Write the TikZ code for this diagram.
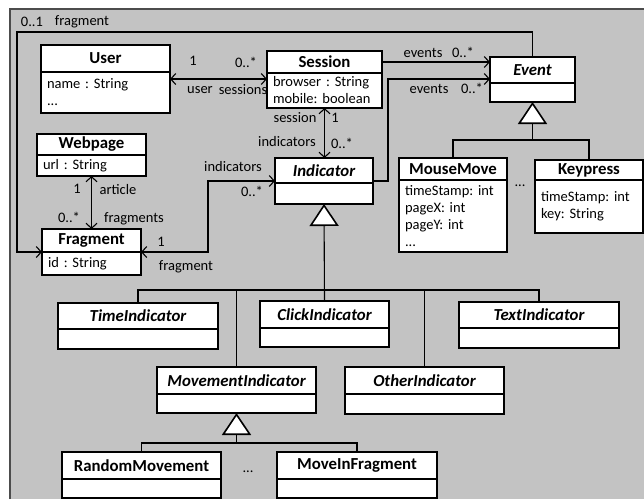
\documentclass[tikz,border=0pt]{standalone}
\usepackage{fontspec}
\setmainfont{Carlito}
\usetikzlibrary{arrows.meta}
\definecolor{canvas}{RGB}{195,195,195}
\frenchspacing

\begin{document}
\begin{tikzpicture}[x = 1pt, y = -1pt, font = \fontsize{14.5}{17}\selectfont,
    head/.style = {draw, fill = white, line width = 1.6pt, outer sep = 0pt, inner xsep = 2pt, inner ysep = 0.5pt, anchor = north west, font = \fontsize{16.8}{17}\selectfont\bfseries},
    abstract/.style = {head, font = \fontsize{16.8}{17}\selectfont\bfseries\itshape},
    attrs/.style = {draw, fill = white, line width = 1.6pt, outer sep = 0pt, inner xsep = 6pt, inner ysep = 1pt, anchor = north, align = left},
    lbl/.style = {inner sep = 0pt},
    assoc/.style = {line width = 1.1pt, {Straight Barb[length = 5pt, width = 11pt]}-{Straight Barb[length = 5pt, width = 11pt]}},
    nav/.style = {line width = 1.1pt, -{Straight Barb[length = 5pt, width = 11pt]}},
    gen/.style = {line width = 1.1pt, -{Triangle[fill = white, line width = 1.6pt, length = 22pt, width = 29pt]}},
    tree/.style = {line width = 1.1pt}]
    \useasboundingbox (0,0) rectangle (644,499);
    \fill[canvas] (9,8) rectangle (644,499);
    \draw[line width = 2pt, black!70] (9.5,499) -- (9.5,8.5) -- (644,8.5);

    % classes
    \node[head, minimum width = 129pt, minimum height = 27pt] (User) at (41,45) {User};
    \node[attrs, text width = 117pt, minimum height = 41pt] (User-a) at (User.south) {name : String\\...};
    \node[head, minimum width = 115pt, minimum height = 22pt] (Session) at (267,51) {Session};
    \node[attrs, text width = 103pt, minimum height = 35pt] (Session-a) at (Session.south) {browser : String\\mobile: boolean};
    \node[abstract, minimum width = 85pt, minimum height = 26pt] (Event) at (490,57) {Event};
    \node[attrs, text width = 73pt, minimum height = 19pt] (Event-a) at (Event.south) {};
    \node[head, minimum width = 109pt, minimum height = 21pt] (Webpage) at (37,134) {Webpage};
    \node[attrs, text width = 97pt, minimum height = 21pt] (Webpage-a) at (Webpage.south) {url : String};
    \node[head, minimum width = 99pt, minimum height = 23pt] (Fragment) at (42,229) {Fragment};
    \node[attrs, text width = 87pt, minimum height = 23pt] (Fragment-a) at (Fragment.south) {id : String};
    \node[abstract, minimum width = 98pt, minimum height = 25pt] (Indicator) at (275,158) {Indicator};
    \node[attrs, text width = 86pt, minimum height = 21pt] (Indicator-a) at (Indicator.south) {};
    \node[head, minimum width = 108pt, minimum height = 22pt] (MouseMove) at (399,158) {MouseMove};
    \node[attrs, text width = 96pt, minimum height = 72pt] (MouseMove-a) at (MouseMove.south) {timeStamp: int\\pageX: int\\pageY: int\\...};
    \node[head, minimum width = 108pt, minimum height = 20pt] (Keypress) at (535,160) {Keypress};
    \node[attrs, text width = 96pt, minimum height = 53pt] (Keypress-a) at (Keypress.south) {timeStamp: int\\key: String};
    \node[abstract, minimum width = 160pt, minimum height = 26pt] (Time) at (58,303) {TimeIndicator};
    \node[attrs, text width = 148pt, minimum height = 20pt] (Time-a) at (Time.south) {};
    \node[abstract, minimum width = 129pt, minimum height = 27pt] (Click) at (260,301) {ClickIndicator};
    \node[attrs, text width = 117pt, minimum height = 19pt] (Click-a) at (Click.south) {};
    \node[abstract, minimum width = 160pt, minimum height = 26pt] (Text) at (459,302) {TextIndicator};
    \node[attrs, text width = 148pt, minimum height = 20pt] (Text-a) at (Text.south) {};
    \node[abstract, minimum width = 159pt, minimum height = 27pt] (Movement) at (157,367) {MovementIndicator};
    \node[attrs, text width = 147pt, minimum height = 19pt] (Movement-a) at (Movement.south) {};
    \node[abstract, minimum width = 159pt, minimum height = 27pt] (Other) at (345,367) {OtherIndicator};
    \node[attrs, text width = 147pt, minimum height = 20pt] (Other-a) at (Other.south) {};
    \node[head, minimum width = 159pt, minimum height = 27pt] (Random) at (62,452) {RandomMovement};
    \node[attrs, text width = 147pt, minimum height = 19pt] (Random-a) at (Random.south) {};
    \node[head, minimum width = 160pt, minimum height = 27pt] (MoveIn) at (277,452) {MoveInFragment};
    \node[attrs, text width = 148pt, minimum height = 19pt] (MoveIn-a) at (MoveIn.south) {};
    \node (D1) at (520,186) {...};
    \node (D2) at (248,472) {...};

    % associations
    \coordinate (us) at ([yshift = -7pt]User-a.north east);
    \draw[assoc] (us) -- (us -| Session-a.west);
    \draw[nav] (Session.east) -- (Session.east -| Event.west);
    \draw[nav] ([yshift = 2pt]Indicator.south east) -- ++(15,0) |- ([yshift = 4pt]Event.south west);
    \draw[assoc] (Session-a.south) -- (Session-a.south |- Indicator.north);
    \draw[assoc] ([yshift = 2pt]Indicator.south west) -- ++(-67,0) |- (Fragment.south east);
    \draw[assoc] (Webpage-a.south) -- (Fragment.north);
    \coordinate (loop) at (17,32);
    \draw[nav] (Event.north) |- (loop) |- (Fragment.south west);

    % generalizations
    \coordinate (ev) at ([yshift = -38pt]Event-a.south);
    \draw[gen] (ev) -- (Event-a.south);
    \draw[tree] (MouseMove.north) |- (ev) -| (Keypress.north);
    \coordinate (ib) at ([yshift = 11pt]Click.north);
    \draw[gen] (Click.north) -- (Indicator-a.south);
    \draw[tree] (Time.north) |- (ib) -| (Text.north);
    \draw[tree] (Movement.north) -- (Movement.north |- ib);
    \draw[tree] (Other.north) -- (Other.north |- ib);
    \coordinate (mb) at ([yshift = -30pt]Movement-a.south);
    \draw[gen] (mb) -- (Movement-a.south);
    \draw[tree] (Random.north) |- (mb) -| (MoveIn.north);

    % role names and multiplicities
    \node[lbl] (L1) at (32,22) {0..1};
    \node[lbl] (L2) at (82,22) {fragment};
    \node[lbl] (L3) at (193,61) {1};
    \node[lbl] (L4) at (246,62) {0..*};
    \node[lbl] (L5) at (200,90) {user};
    \node[lbl] (L6) at (243,90) {sessions};
    \node[lbl] (L7) at (295,118) {session};
    \node[lbl] (L8) at (335,118) {1};
    \node[lbl] (L9) at (287,142) {indicators};
    \node[lbl] (L10) at (342,143) {0..*};
    \node[lbl] (L11) at (423,53) {events};
    \node[lbl] (L12) at (463,52) {0..*};
    \node[lbl] (L13) at (429,89) {events};
    \node[lbl] (L14) at (472,88) {0..*};
    \node[lbl] (L15) at (233,167) {indicators};
    \node[lbl] (L16) at (252,191) {0..*};
    \node[lbl] (L17) at (77,189) {1};
    \node[lbl] (L18) at (118,190) {article};
    \node[lbl] (L19) at (69,217) {0..*};
    \node[lbl] (L20) at (134,219) {fragments};
    \node[lbl] (L21) at (161,242) {1};
    \node[lbl] (L22) at (186,267) {fragment};
\end{tikzpicture}
\end{document}
